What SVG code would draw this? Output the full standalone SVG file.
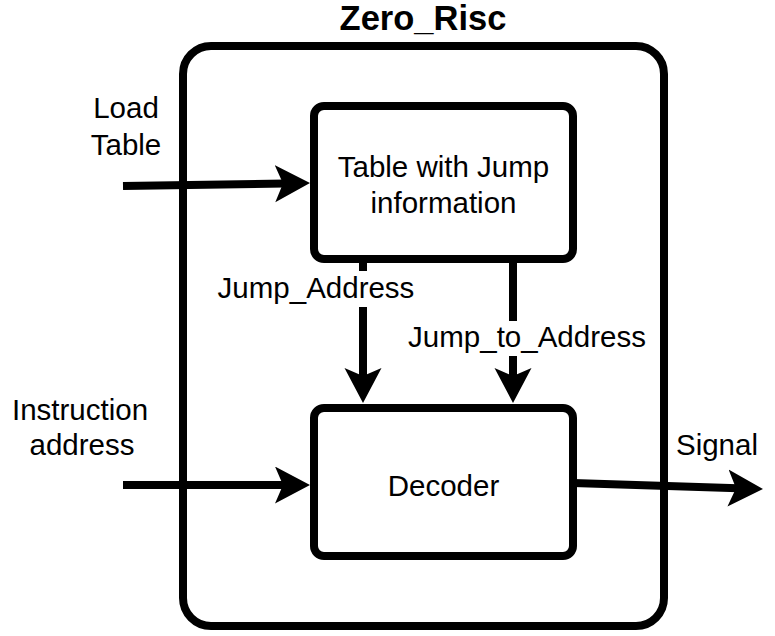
<svg xmlns="http://www.w3.org/2000/svg" width="775" height="636" viewBox="0 0 775 636">
<defs>
<style>
.box{fill:#fff;stroke:#000;stroke-width:8}
.edge{fill:none;stroke:#000;stroke-width:8;marker-end:url(#arrow)}
.t{font-family:"Liberation Sans",Arial,sans-serif;font-size:29.5px;fill:#000;text-anchor:middle}
.title{font-family:"Liberation Sans",Arial,sans-serif;font-size:34.5px;font-weight:bold;fill:#000;text-anchor:middle}
.lbg{fill:#fff}
</style>
<marker id="arrow" markerUnits="userSpaceOnUse" markerWidth="36" markerHeight="38" viewBox="0 0 36 38" refX="10" refY="18.5" orient="auto">
<path d="M35,18.5 L0,0 L8,18.5 L0,37 Z" fill="#000"/>
</marker>
</defs>
<rect width="775" height="636" fill="#fff"/>
<g id="zero_risc">
<rect class="box" x="183" y="46" width="481" height="580" rx="28"/>
<text class="title" x="423" y="30">Zero_Risc</text>
</g>
<g id="jump_table">
<rect class="box" x="314" y="106" width="259" height="153" rx="10"/>
<text class="t" x="443.5" y="177">Table with Jump</text>
<text class="t" x="443.5" y="213">information</text>
</g>
<g id="decoder">
<rect class="box" x="314" y="408" width="259" height="148" rx="10"/>
<text class="t" x="443.5" y="496">Decoder</text>
</g>
<g id="connectors">
<path class="edge" d="M123,186 L285,183.5"/>
<path class="edge" d="M123,485 L285,485"/>
<path class="edge" d="M363,263 L363,378"/>
<path class="edge" d="M513,263 L513,378"/>
<path class="edge" d="M573,483 L738,488.2"/>
</g>
<g id="labels">
<text class="t" x="126" y="118">Load</text>
<text class="t" x="126" y="155">Table</text>
<text class="t" x="80" y="420">Instruction</text>
<text class="t" x="82" y="455">address</text>
<rect class="lbg" x="216" y="271" width="200" height="36"/>
<text class="t" x="316" y="298">Jump_Address</text>
<rect class="lbg" x="405" y="321" width="244" height="35"/>
<text class="t" x="527" y="347">Jump_to_Address</text>
<text class="t" x="717" y="455">Signal</text>
</g>
</svg>
